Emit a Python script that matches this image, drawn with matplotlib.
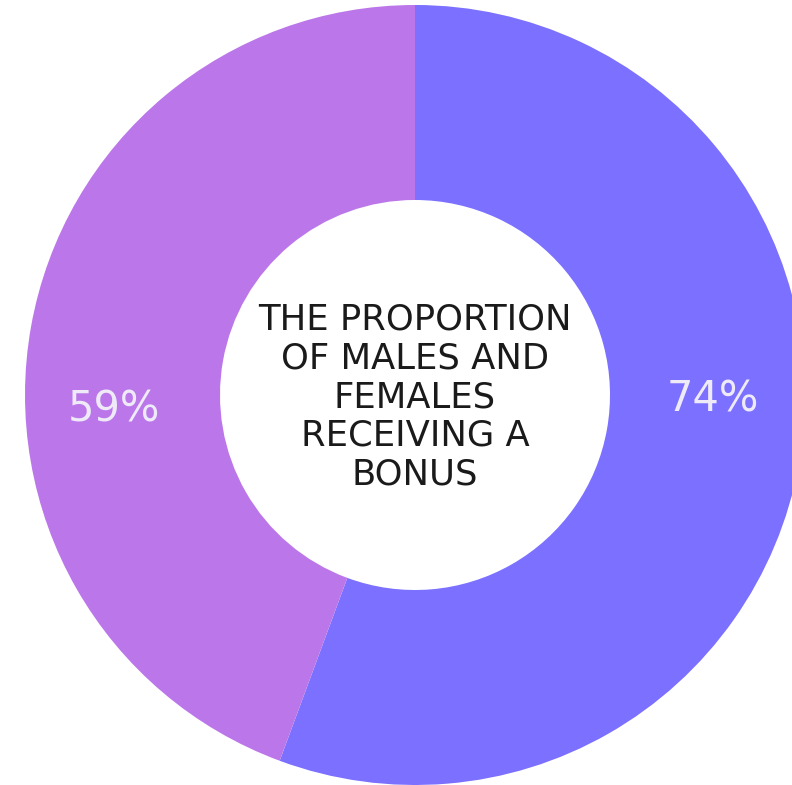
import matplotlib
matplotlib.use("Agg")
import matplotlib.pyplot as plt

categories = ["Males", "Females"]
values = [74, 59]
labels = ["74%", "59%"]
colors = ["#7B70FF", "#BB77EA"]
center_text = "THE PROPORTION\nOF MALES AND\nFEMALES\nRECEIVING A\nBONUS"

W, H = 792, 785
fig = plt.figure(figsize=(W / 100, H / 100), dpi=100)
ax = fig.add_axes([0, 0, 1, 1])

cx, cy, R = 415, H - 395, 390
width = 0.5
ax.pie(values, colors=colors, startangle=90, counterclock=False,
       radius=R, center=(cx, cy), wedgeprops=dict(width=R * width, linewidth=0),
       frame=True)
ax.set_xlim(0, W)
ax.set_ylim(0, H)
ax.set_aspect("equal")
ax.axis("off")

mid_r = R * (1 - width / 2)
ax.text(cx + mid_r + 5, cy - 4, labels[0], ha="center", va="center",
        fontsize=30, color="#EEEAF8", family="DejaVu Sans")
ax.text(cx - mid_r - 9, cy - 14, labels[1], ha="center", va="center",
        fontsize=30, color="#EEEAF8", family="DejaVu Sans")

ax.text(cx, cy - 2, center_text, ha="center", va="center", fontsize=25.5,
        color="#1a1a1a", family="DejaVu Sans", linespacing=1.17)

fig.savefig("out.png", dpi=100)
